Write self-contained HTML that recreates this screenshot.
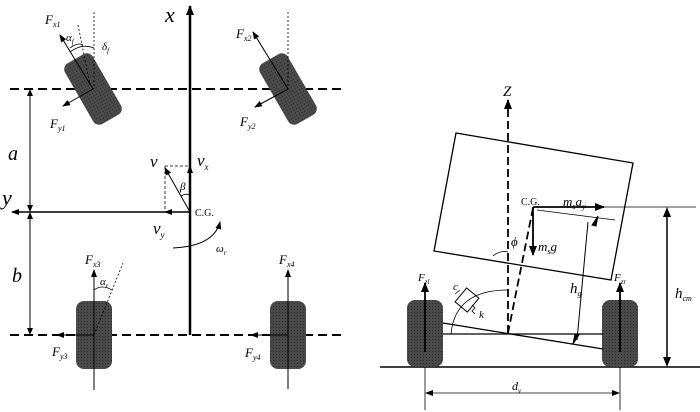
<!DOCTYPE html>
<html><head><meta charset="utf-8"><style>
html,body{margin:0;padding:0;background:#fff;}
svg{display:block;font-family:"Liberation Serif",serif;font-style:italic;}
</style></head><body>
<svg width="700" height="412" viewBox="0 0 700 412" xmlns="http://www.w3.org/2000/svg">
<defs>
<marker id="a" markerWidth="8" markerHeight="8" refX="7" refY="4" orient="auto" markerUnits="userSpaceOnUse"><path d="M0,1 L8,4 L0,7 z" fill="#000"/></marker>
<marker id="b" markerWidth="10" markerHeight="10" refX="9" refY="5" orient="auto" markerUnits="userSpaceOnUse"><path d="M0,1 L10,5 L0,9 z" fill="#000"/></marker>
<pattern id="t" width="3" height="3" patternUnits="userSpaceOnUse"><rect width="3" height="3" fill="#4a4a4a"/><rect width="1" height="1" fill="#2a2a2a"/></pattern>
</defs>
<g stroke="#000" fill="none">
<line x1="190" y1="335" x2="190" y2="6" stroke-width="2.5" marker-end="url(#b)"/>
<line x1="10" y1="89" x2="342" y2="89" stroke-width="2" stroke-dasharray="9,5"/>
<line x1="10" y1="335" x2="342" y2="335" stroke-width="2" stroke-dasharray="9,5"/>
<line x1="190" y1="212" x2="12" y2="212" stroke-width="1.5" marker-end="url(#a)"/>
<line x1="30" y1="95" x2="30" y2="206" stroke-width="1"/>
<path d="M30,89 l-3,7 h6z M30,212 l-3,-7 h6z M30,212 l-3,7 h6z M30,335 l-3,-7 h6z" fill="#000" stroke="none"/>
<line x1="30" y1="218" x2="30" y2="329" stroke-width="1"/>
<g transform="translate(93,89) rotate(-30)"><rect x="-16" y="-35" width="32" height="70" rx="7" fill="url(#t)" stroke="none"/></g>
<g transform="translate(288,89) rotate(-30)"><rect x="-16" y="-35" width="32" height="70" rx="7" fill="url(#t)" stroke="none"/></g>
<line x1="94" y1="12" x2="94" y2="89" stroke-width="0.8" stroke-dasharray="2,2"/>
<line x1="288" y1="12" x2="288" y2="89" stroke-width="0.8" stroke-dasharray="2,2"/>
<line x1="78" y1="25" x2="90" y2="85" stroke-width="0.8" stroke-dasharray="2,2"/>
<line x1="93" y1="89" x2="60" y2="35" stroke-width="1" marker-end="url(#a)"/>
<line x1="288" y1="89" x2="253" y2="32" stroke-width="1" marker-end="url(#a)"/>
<line x1="93" y1="89" x2="63" y2="106" stroke-width="1" marker-end="url(#a)"/>
<line x1="288" y1="89" x2="255" y2="107" stroke-width="1" marker-end="url(#a)"/>
<path d="M70,48 Q78,42 83,45" stroke-width="0.8"/>
<path d="M70,52 Q82,43 94,48" stroke-width="0.8"/>
<rect x="76" y="301" width="36" height="68" rx="8" fill="url(#t)" stroke="none"/>
<rect x="270" y="301" width="36" height="68" rx="8" fill="url(#t)" stroke="none"/>
<line x1="94" y1="390" x2="94" y2="270" stroke-width="1" marker-end="url(#a)"/>
<line x1="288" y1="389" x2="288" y2="270" stroke-width="1" marker-end="url(#a)"/>
<line x1="94" y1="335" x2="57" y2="335" stroke-width="1" marker-end="url(#a)"/>
<line x1="288" y1="335" x2="251" y2="335" stroke-width="1" marker-end="url(#a)"/>
<line x1="94" y1="335" x2="123" y2="263" stroke-width="0.8" stroke-dasharray="2,2"/>
<path d="M94,290 Q102,284 112,290" stroke-width="0.8"/>
<line x1="165" y1="166" x2="190" y2="166" stroke-width="0.8" stroke-dasharray="3,2"/>
<line x1="165" y1="166" x2="165" y2="212" stroke-width="0.8" stroke-dasharray="3,2"/>
<line x1="190" y1="212" x2="165" y2="168" stroke-width="1" marker-end="url(#a)"/>
<line x1="190" y1="212" x2="190" y2="166" stroke-width="1" marker-end="url(#a)"/>
<line x1="190" y1="212" x2="165" y2="212" stroke-width="1" marker-end="url(#a)"/>
<path d="M181,196 Q186,193 190,195" stroke-width="0.8"/>
<path d="M173,248 Q214,246 220,222" stroke-width="1" marker-end="url(#a)"/>
<line x1="380" y1="367" x2="700" y2="367" stroke-width="1.5"/>
<polygon points="456,133 633,163 611,280 434,251" stroke-width="1.3"/>
<line x1="508" y1="333" x2="508" y2="100" stroke-width="1.8" stroke-dasharray="8,4" marker-end="url(#b)"/>
<line x1="533" y1="208" x2="508" y2="333" stroke-width="1.8" stroke-dasharray="8,4"/>
<rect x="407" y="300" width="36" height="67" rx="8" fill="url(#t)" stroke="none"/>
<rect x="602" y="300" width="36" height="67" rx="8" fill="url(#t)" stroke="none"/>
<line x1="443" y1="334" x2="603" y2="334" stroke-width="1.3"/>
<line x1="443" y1="323" x2="603" y2="349" stroke-width="1.3"/>
<line x1="425" y1="352" x2="425" y2="283" stroke-width="1.8" marker-end="url(#b)"/>
<line x1="620" y1="352" x2="620" y2="283" stroke-width="1.8" marker-end="url(#b)"/>
<line x1="533" y1="207" x2="604" y2="207" stroke-width="1.8" marker-end="url(#b)"/>
<line x1="604" y1="207" x2="696" y2="207" stroke-width="0.8"/>
<line x1="533" y1="207" x2="533" y2="255" stroke-width="1.8" marker-end="url(#b)"/>
<line x1="537" y1="210" x2="615" y2="220" stroke-width="0.8"/>
<line x1="588" y1="222" x2="577" y2="340" stroke-width="1"/>
<path d="M598,216 l-2,10 l-4,-1z M573,344 l2,-10 l4,1z" fill="#000" stroke="#000" stroke-width="1"/>
<line x1="667" y1="212" x2="667" y2="362" stroke-width="1.5"/>
<path d="M667,207 l-4,10 h8z M667,367 l-4,-10 h8z" fill="#000" stroke="none"/>
<line x1="425" y1="367" x2="425" y2="410" stroke-width="0.8"/>
<line x1="620" y1="367" x2="620" y2="410" stroke-width="0.8"/>
<line x1="430" y1="393" x2="615" y2="393" stroke-width="0.8"/>
<path d="M425,393 l8,-3 v6z M620,393 l-8,-3 v6z" fill="#000" stroke="none"/>
<path d="M451,334 Q455,290 508,290" stroke-width="0.8"/>
<path d="M493,256 Q500,250 508,252" stroke-width="0.8"/>
<g transform="translate(467,300) rotate(40)"><rect x="-8" y="-9" width="16" height="18" stroke-width="1"/></g>
<path d="M455,294 l5,-4 M472,305 l3,3 l-3,3 l3,3" stroke-width="0.8"/>
</g>
<g font-size="13" fill="#000">
<text x="165" y="22" font-size="22">x</text>
<text x="2" y="205" font-size="22">y</text>
<text x="8" y="160" font-size="20">a</text>
<text x="12" y="282" font-size="20">b</text>
<text x="45" y="24">F<tspan font-size="8" dy="3">x1</tspan></text>
<text x="236" y="38">F<tspan font-size="8" dy="3">x2</tspan></text>
<text x="50" y="128">F<tspan font-size="8" dy="3">y1</tspan></text>
<text x="240" y="126">F<tspan font-size="8" dy="3">y2</tspan></text>
<text x="66" y="41" font-size="11">α<tspan font-size="7" dy="3">f</tspan></text>
<text x="102" y="50" font-size="11">δ<tspan font-size="7" dy="3">f</tspan></text>
<text x="85" y="264">F<tspan font-size="8" dy="3">x3</tspan></text>
<text x="279" y="264">F<tspan font-size="8" dy="3">x4</tspan></text>
<text x="52" y="356">F<tspan font-size="8" dy="3">y3</tspan></text>
<text x="245" y="357">F<tspan font-size="8" dy="3">y4</tspan></text>
<text x="100" y="285" font-size="11">α<tspan font-size="7" dy="3">r</tspan></text>
<text x="150" y="167" font-size="17">v</text>
<text x="197" y="166" font-size="17">v<tspan font-size="9" dy="4">x</tspan></text>
<text x="153" y="234" font-size="17">v<tspan font-size="9" dy="4">y</tspan></text>
<text x="180" y="190" font-size="11">β</text>
<text x="195" y="216" font-size="10" font-style="normal">C.G.</text>
<text x="216" y="252" font-size="11">ω<tspan font-size="7" dy="3">r</tspan></text>
<text x="503" y="96" font-size="15">Z</text>
<text x="521" y="205" font-size="10" font-style="normal">C.G.</text>
<text x="563" y="206">m<tspan font-size="8" dy="3">s</tspan><tspan dy="-3">a</tspan><tspan font-size="8" dy="3">y</tspan></text>
<text x="538" y="251">m<tspan font-size="8" dy="3">s</tspan><tspan dy="-3">g</tspan></text>
<text x="511" y="246">ϕ</text>
<text x="570" y="293" font-size="15">h<tspan font-size="8" dy="3">g</tspan></text>
<text x="675" y="298" font-size="15">h<tspan font-size="8" dy="3">cm</tspan></text>
<text x="418" y="281" font-size="11">F<tspan font-size="7" dy="3">zl</tspan></text>
<text x="614" y="281" font-size="11">F<tspan font-size="7" dy="3">zr</tspan></text>
<text x="453" y="290" font-size="11">c</text>
<text x="479" y="318" font-size="11">k</text>
<text x="512" y="390" font-size="12">d<tspan font-size="7" dy="3">v</tspan></text>
</g>
</svg>
</body></html>
